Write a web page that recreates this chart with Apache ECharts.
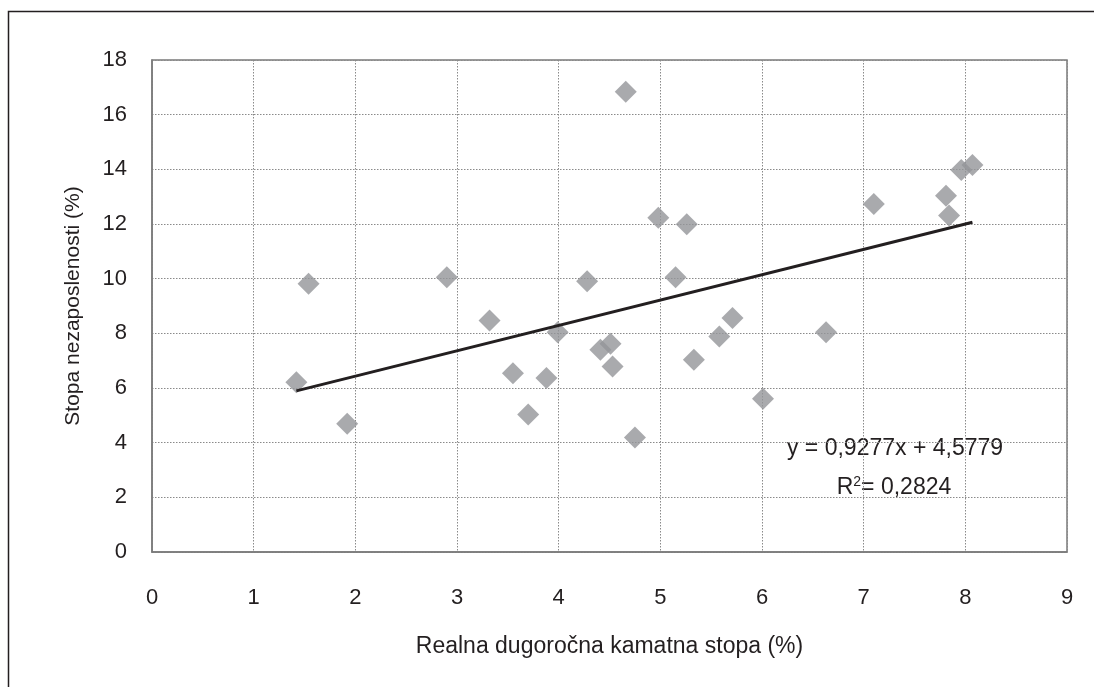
<!DOCTYPE html>
<html>
<head>
<meta charset="utf-8">
<script src="https://cdn.jsdelivr.net/npm/echarts@6/dist/echarts.min.js"></script>
<style>
html,body{margin:0;padding:0;background:#fff;}
#chart{width:1094px;height:687px;}
</style>
</head>
<body>
<div id="chart"></div>
<script>
// Data
var rateX = [1.54, 2.90, 4.28, 3.32, 3.99, 4.51, 4.41, 4.53, 3.55, 3.88, 1.42, 3.70, 1.92, 4.66,
             4.98, 5.26, 5.15, 5.71, 5.58, 5.33, 4.75, 6.01, 6.63, 7.10, 7.81, 7.84, 7.96, 8.07];
var unempY = [9.81, 10.05, 9.91, 8.47, 8.04, 7.62, 7.40, 6.79, 6.54, 6.37, 6.21, 5.03, 4.69, 16.84,
              12.23, 11.99, 10.05, 8.56, 7.88, 7.03, 4.19, 5.61, 8.04, 12.73, 13.03, 12.31, 13.98, 14.16];
var xTicks = [0, 1, 2, 3, 4, 5, 6, 7, 8, 9];
var yTicks = [0, 2, 4, 6, 8, 10, 12, 14, 16, 18];
var trendSlope = 0.9277;
var trendIntercept = 4.5779;
var trendEndsX = [1.42, 8.07];
var eqText = 'y = 0,9277x + 4,5779';
var r2Text = '0,2824';

var points = rateX.map(function (x, i) { return [x, unempY[i]]; });
var trend = trendEndsX.map(function (x) { return [x, trendSlope * x + trendIntercept]; });

var font = 'Liberation Sans, Arial, sans-serif';
var chart = echarts.init(document.getElementById('chart'));
chart.setOption({
  backgroundColor: '#fff',
  animation: false,
  grid: {
    left: 152, top: 60, right: 27, bottom: 135,
    show: true, borderColor: '#7a7a7a', borderWidth: 1.5, backgroundColor: 'transparent'
  },
  xAxis: {
    type: 'value', min: 0, max: 9, interval: 1,
    name: 'Realna dugoročna kamatna stopa (%)',
    nameLocation: 'middle', nameGap: 83,
    nameTextStyle: { fontFamily: font, fontSize: 23, color: '#231f20' },
    axisLine: { show: true, lineStyle: { color: '#7a7a7a', width: 1.5 } },
    axisTick: { show: false },
    axisLabel: {
      fontFamily: font, fontSize: 22, color: '#231f20', margin: 35,
      formatter: function (v) { return xTicks.indexOf(v) >= 0 ? String(v) : ''; }
    },
    splitLine: { show: true, lineStyle: { color: '#8a8a8a', width: 1, type: [1.5, 1.5] } }
  },
  yAxis: {
    type: 'value', min: 0, max: 18, interval: 2,
    name: 'Stopa nezaposlenosti (%)',
    nameLocation: 'middle', nameGap: 68,
    nameTextStyle: { fontFamily: font, fontSize: 21, color: '#231f20' },
    axisLine: { show: true, lineStyle: { color: '#7a7a7a', width: 1.5 } },
    axisTick: { show: false },
    axisLabel: {
      fontFamily: font, fontSize: 22, color: '#231f20', margin: 25,
      formatter: function (v) { return yTicks.indexOf(v) >= 0 ? String(v) : ''; }
    },
    splitLine: { show: true, lineStyle: { color: '#8a8a8a', width: 1, type: [1.5, 1.5] } }
  },
  series: [
    {
      type: 'scatter',
      data: points,
      symbol: 'diamond',
      symbolSize: 22,
      itemStyle: { color: '#939598' },
      z: 2
    },
    {
      type: 'line',
      data: trend,
      symbol: 'none',
      lineStyle: { color: '#231f20', width: 3 },
      z: 3
    }
  ],
  graphic: [
    {
      type: 'rect',
      shape: { x: 8.5, y: 11.5, width: 1100, height: 700 },
      style: { fill: 'none', stroke: '#231f20', lineWidth: 1.5 },
      silent: true
    },
    {
      type: 'text', x: 895, y: 449,
      style: {
        text: eqText, font: '23px ' + font, fill: '#231f20',
        align: 'center', verticalAlign: 'middle'
      }
    },
    {
      type: 'text', x: 894, y: 488,
      style: {
        text: 'R{sup|2}= ' + r2Text, font: '23px ' + font, fill: '#231f20',
        align: 'center', verticalAlign: 'middle',
        rich: { sup: { fontSize: 14, fontFamily: font, fill: '#231f20', verticalAlign: 'top', padding: [0, 0, 12, 0] } }
      }
    }
  ]
});
</script>
</body>
</html>
